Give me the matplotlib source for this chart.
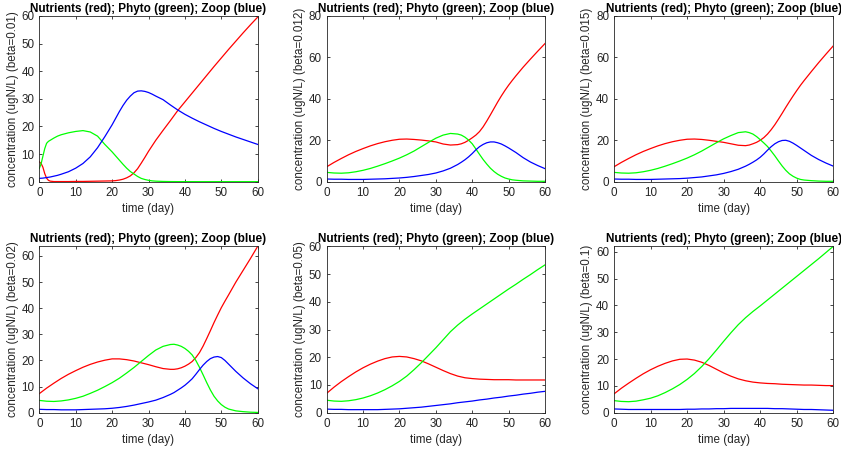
import matplotlib
matplotlib.use("Agg")
import matplotlib.pyplot as plt
import numpy as np

plt.rcParams['font.family'] = ['Liberation Sans', 'DejaVu Sans']

# ---- data -----------------------------------------------------------------
betas = ["0.01", "0.012", "0.015", "0.02", "0.05", "0.1"]

# time grids (days)
t_b001 = ([0, 0.5, 1, 1.5, 2, 2.5, 3, 4, 5, 6, 8, 10, 12, 14, 16, 18]
          + list(range(20, 33)) + list(range(34, 61, 2)))
t_bloom = list(range(0, 37, 2)) + list(range(37, 53)) + list(range(54, 61, 2))
t_days = list(range(0, 61, 2))

# beta = 0.01
n_b001 = [7.2, 6.6, 5.2, 2.9, 1.3, 0.5, 0.2, 0.05, 0.05, 0.05, 0.05, 0.1, 0.1, 0.15, 0.2, 0.25,
          0.3, 0.4, 0.6, 0.9, 1.4, 2.1, 3.2, 4.7, 6.7, 8.8, 11.0, 13.0, 15.0,
          18.6, 22.1, 25.7, 28.9, 32.1, 35.3, 38.5, 41.7, 44.8, 47.9, 50.9, 53.9, 56.8, 59.6]
p_b001 = [4.8, 6.5, 9.3, 12.0, 13.9, 14.6, 15.0, 15.8, 16.5, 17.0, 17.7, 18.2, 18.5, 18.0, 16.5, 13.5,
          10.8, 9.3, 7.8, 6.3, 4.9, 3.7, 2.8, 1.9, 1.2, 0.8, 0.5, 0.3, 0.2,
          0.1, 0.05, 0.03, 0.02, 0.02, 0.01, 0.01, 0.01, 0.01, 0.01, 0.01, 0.01, 0.01, 0.01]
z_b001 = [1.2, 1.25, 1.3, 1.4, 1.5, 1.6, 1.7, 2.0, 2.3, 2.7, 3.6, 4.9, 6.6, 9.0, 12.3, 16.3,
          20.6, 23.0, 25.4, 27.6, 29.5, 31.0, 32.2, 32.8, 32.9, 32.7, 32.3, 31.7, 31.0,
          29.7, 27.8, 26.0, 24.4, 23.0, 21.7, 20.5, 19.3, 18.2, 17.2, 16.2, 15.3, 14.4, 13.5]

# beta = 0.012
n_b0012 = [7.2, 9.3, 11.2, 13.0, 14.6, 16.0, 17.3, 18.4, 19.3, 20.0, 20.5, 20.6, 20.4, 20.1,
           19.7, 19.2, 18.2, 17.7, 17.9,
           18.3, 19.0, 20.0, 21.2, 22.5, 24.2, 26.5, 29.3, 32.3, 35.4, 38.5, 41.4, 44.1, 46.6,
           48.9, 51.1,
           55.3, 59.2, 63.0, 66.7]
p_b0012 = [4.5, 4.2, 4.1, 4.3, 4.8, 5.5, 6.4, 7.5, 8.7, 10.0, 11.4, 13.0, 14.8, 16.9, 19.0,
           21.0, 22.5, 23.3, 23.0,
           22.5, 21.5, 20.1, 18.3, 15.8, 13.2, 10.7, 8.5, 6.5, 4.9, 3.6, 2.6, 1.8, 1.3, 0.9, 0.7,
           0.4, 0.3, 0.2, 0.2]
z_b0012 = [1.3, 1.2, 1.2, 1.1, 1.1, 1.1, 1.2, 1.3, 1.4, 1.6, 1.8, 2.1, 2.5, 3.0, 3.5, 4.2,
           5.2, 6.5, 8.3,
           9.4, 10.6, 12.0, 13.6, 15.4, 16.9, 18.0, 18.8, 19.2, 19.2, 18.8, 18.2, 17.3, 16.3,
           15.2, 14.1,
           11.6, 9.5, 7.8, 6.3]

# beta = 0.015
n_b0015 = [7.2, 9.3, 11.2, 13.0, 14.6, 16.0, 17.3, 18.4, 19.3, 20.0, 20.5, 20.6, 20.4, 20.0,
           19.5, 19.0, 18.3, 17.6, 17.4,
           17.7, 18.3, 19.0, 20.0, 21.3, 23.0, 25.1, 27.5, 30.2, 33.0, 35.9, 38.7, 41.4, 44.0,
           46.5, 48.8,
           53.2, 57.5, 61.6, 65.6]
p_b0015 = [4.5, 4.2, 4.1, 4.3, 4.8, 5.5, 6.4, 7.5, 8.7, 10.0, 11.4, 13.0, 14.8, 16.8, 18.8,
           20.7, 22.3, 23.7, 24.1,
           23.7, 23.0, 21.8, 20.3, 18.7, 17.0, 14.8, 12.5, 10.0, 7.6, 5.5, 3.8, 2.6, 1.7, 1.1, 0.8,
           0.5, 0.3, 0.2, 0.2]
z_b0015 = [1.3, 1.2, 1.2, 1.1, 1.1, 1.1, 1.2, 1.3, 1.4, 1.5, 1.7, 2.0, 2.3, 2.8, 3.3, 4.0,
           4.9, 6.0, 7.5,
           8.4, 9.4, 10.5, 11.8, 13.4, 15.2, 16.9, 18.3, 19.3, 19.9, 20.0, 19.5, 18.6, 17.5,
           16.3, 15.1,
           12.7, 10.7, 9.0, 7.5]

# beta = 0.02
n_b002 = [7.3, 9.4, 11.3, 13.1, 14.7, 16.1, 17.4, 18.5, 19.4, 20.1, 20.6, 20.6, 20.3, 19.8,
          19.1, 18.4, 17.6, 16.9, 16.6,
          16.6, 16.8, 17.2, 17.8, 18.6, 19.6, 21.1, 23.0, 25.5, 28.4, 31.4, 34.5, 37.4, 40.2,
          42.7, 45.1,
          50.0, 54.5, 59.0, 63.7]
p_b002 = [4.7, 4.4, 4.3, 4.5, 4.9, 5.5, 6.3, 7.4, 8.6, 10.0, 11.5, 13.2, 15.2, 17.3, 19.6,
          21.9, 24.0, 25.4, 26.1,
          26.2, 25.9, 25.4, 24.6, 23.5, 22.1, 20.0, 17.4, 14.5, 11.5, 8.7, 6.3, 4.5, 3.1, 2.1, 1.4,
          0.7, 0.4, 0.2, 0.1]
z_b002 = [1.3, 1.2, 1.2, 1.1, 1.1, 1.1, 1.2, 1.3, 1.4, 1.5, 1.7, 2.0, 2.4, 2.9, 3.5, 4.1,
          4.8, 5.8, 7.0,
          7.7, 8.6, 9.5, 10.5, 11.7, 13.0, 14.7, 16.5, 18.2, 19.6, 20.7, 21.3, 21.5, 21.1,
          20.0, 18.6,
          15.8, 13.3, 11.1, 9.2]

# beta = 0.05
n_b005 = [7.0, 9.2, 11.2, 13.0, 14.7, 16.2, 17.5, 18.6, 19.5, 20.1, 20.3, 20.1, 19.5, 18.7,
          17.6, 16.4, 15.2, 14.1, 13.2, 12.6, 12.3, 12.1, 12.0, 11.9, 11.9, 11.9, 11.8, 11.8,
          11.8, 11.8, 11.8]
p_b005 = [4.5, 4.2, 4.1, 4.3, 4.7, 5.3, 6.1, 7.1, 8.3, 9.7, 11.3, 13.2, 15.5, 18.0, 20.7,
          23.4, 26.3, 29.2, 31.6, 33.7, 35.6, 37.4, 39.2, 41.0, 42.8, 44.6, 46.3, 48.1, 49.8,
          51.6, 53.3]
z_b005 = [1.3, 1.2, 1.2, 1.1, 1.1, 1.1, 1.1, 1.1, 1.2, 1.3, 1.4, 1.6, 1.8, 2.0, 2.3, 2.6,
          2.9, 3.2, 3.6, 3.9, 4.2, 4.6, 4.9, 5.3, 5.6, 6.0, 6.3, 6.7, 7.0, 7.4, 7.7]

# beta = 0.1
n_b01 = [7.0, 9.1, 11.0, 12.8, 14.5, 16.0, 17.3, 18.4, 19.3, 19.9, 20.0, 19.6, 18.8, 17.6,
         16.2, 14.8, 13.6, 12.6, 11.9, 11.4, 11.1, 10.9, 10.8, 10.6, 10.5, 10.4, 10.3, 10.3,
         10.2, 10.1, 10.1]
p_b01 = [4.5, 4.2, 4.1, 4.3, 4.8, 5.4, 6.3, 7.5, 8.9, 10.5, 12.4, 14.6, 17.2, 20.1, 23.3,
         26.6, 29.8, 32.8, 35.4, 37.7, 39.8, 42.0, 44.2, 46.4, 48.6, 50.8, 53.0, 55.2, 57.4,
         59.7, 62.0]
z_b01 = [1.4, 1.3, 1.2, 1.2, 1.2, 1.2, 1.2, 1.2, 1.2, 1.2, 1.3, 1.3, 1.4, 1.4, 1.5, 1.5,
         1.6, 1.6, 1.6, 1.6, 1.6, 1.6, 1.5, 1.5, 1.4, 1.3, 1.2, 1.2, 1.1, 1.0, 0.9]

panels = [
    (t_b001, n_b001, p_b001, z_b001),
    (t_bloom, n_b0012, p_b0012, z_b0012),
    (t_bloom, n_b0015, p_b0015, z_b0015),
    (t_bloom, n_b002, p_b002, z_b002),
    (t_days, n_b005, p_b005, z_b005),
    (t_days, n_b01, p_b01, z_b01),
]

# ---- layout ---------------------------------------------------------------
W, H = 841, 454
col_x = [(39.3, 257.7), (326.7, 545.0), (614.0, 833.3)]
row_y = [(16.0, 181.7), (246.3, 412.7)]
y_limits = [(0, 60, 10), (0, 80, 20), (0, 80, 20),
            (0, None, 10), (0, 60, 10), (0, None, 10)]

axcol = (0.15, 0.15, 0.15)
fs_tick = 8.4
fs_title = 8.45

fig = plt.figure(figsize=(W / 100, H / 100), dpi=100)

for i, (t, n, p, z) in enumerate(panels):
    r, c = divmod(i, 3)
    x0, x1 = col_x[c]
    y0, y1 = row_y[r]
    ax = fig.add_axes([x0 / W, 1 - y1 / H, (x1 - x0) / W, (y1 - y0) / H])
    ax.plot(t, n, color='#ff0000', lw=0.9)
    ax.plot(t, p, color='#00ff00', lw=0.9)
    ax.plot(t, z, color='#0000ff', lw=0.9)

    lo, hi, step = y_limits[i]
    if hi is None:
        hi = max(max(n), max(p), max(z))
    ax.set_xlim(0, 60)
    ax.set_ylim(lo, hi)
    ax.set_xticks(np.arange(0, 61, 10))
    ax.set_yticks(np.arange(0, hi + 0.01, step))

    ax.tick_params(direction='in', length=2.5, width=0.6, colors=axcol,
                   labelsize=fs_tick, top=True, right=True)
    ax.tick_params(axis='x', pad=4)
    ax.tick_params(axis='y', pad=3.5)
    for s in ax.spines.values():
        s.set_color(axcol)
        s.set_linewidth(0.6)

    ax.set_title('Nutrients (red); Phyto (green); Zoop (blue)',
                 fontsize=fs_title, fontweight='bold', pad=3)
    ax.set_xlabel('time (day)', fontsize=fs_tick, color=axcol, labelpad=3)
    ax.set_ylabel(f'concentration (ugN/L) (beta={betas[i]})',
                  fontsize=fs_tick, color=axcol, labelpad=2)

fig.savefig('out.png', dpi=100)
